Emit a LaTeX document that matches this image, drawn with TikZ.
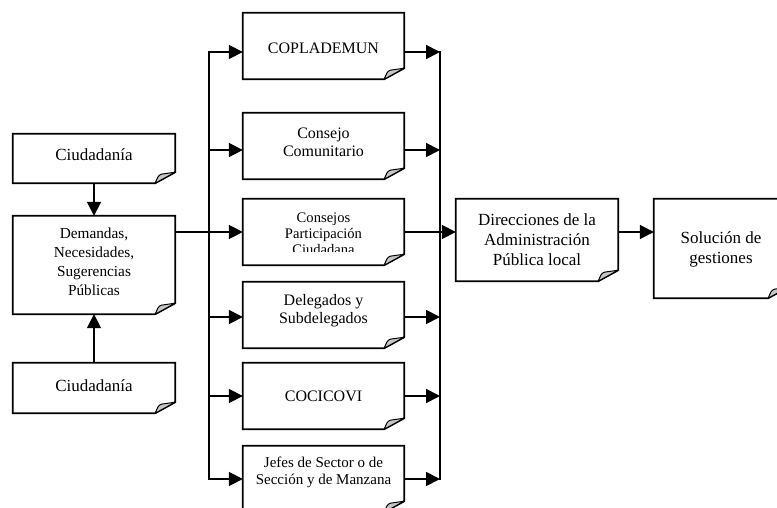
\documentclass[tikz,border=0pt]{standalone}
\usepackage{fontspec}
\setmainfont{Liberation Serif}
\usetikzlibrary{arrows.meta}
\newcommand\foldbox[1]{%
  \draw[line width=1.8pt, line join=miter, fill=white] (#1.north west) -- (#1.north east) -- ([yshift=11pt]#1.south east) -- ([xshift=-20pt]#1.south east) -- (#1.south west) -- cycle;
  \filldraw[fill=gray!45, line width=1pt, line join=round] ([xshift=-20pt]#1.south east) .. controls ([xshift=-18pt,yshift=5pt]#1.south east) and ([xshift=-17pt,yshift=8pt]#1.south east) .. ([xshift=-14pt,yshift=9pt]#1.south east) -- ([yshift=11pt]#1.south east) -- cycle;
}
\begin{document}
\begin{tikzpicture}[x=1pt,y=-1pt,
  box/.style={minimum width=162pt, inner sep=0pt, align=center},
  conn/.style={line width=1.8pt},
  arr/.style={conn,-{Triangle[length=14pt,width=14pt]}},
  fA/.style={font=\fontsize{17}{20}\selectfont},
  fB/.style={font=\fontsize{16}{18}\selectfont},
  fC/.style={font=\fontsize{15.3}{19}\selectfont},
  fD/.style={font=\fontsize{14.6}{16}\selectfont},
  fE/.style={font=\fontsize{15}{17}\selectfont},
]
\useasboundingbox (0,0) rectangle (777,508);
\clip (0,0) rectangle (777,508);

% left column
\node[box, minimum height=49pt] (cit1) at (94,158.5) {};
\node[box, minimum height=98pt] (dem) at (94,265) {};
\node[box, minimum height=50pt] (cit2) at (94,388) {};
% middle column
\node[box, minimum width=161pt, minimum height=66pt] (cop) at (323.5,46) {};
\node[box, minimum width=161pt, minimum height=66pt] (cc) at (323.5,146) {};
\node[box, minimum width=161pt, minimum height=66pt] (cpc) at (323.5,232) {};
\node[box, minimum width=161pt, minimum height=66pt] (del) at (323.5,315) {};
\node[box, minimum width=161pt, minimum height=66pt] (coc) at (323.5,396) {};
\node[box, minimum width=161pt, minimum height=66pt] (jef) at (323.5,479) {};
% right
\node[box, minimum height=82pt] (dir) at (537,240) {};
\node[box, minimum width=134pt, minimum height=99pt] (sol) at (721,248.5) {};

\foreach \n in {cit1,dem,cit2,cop,cc,cpc,del,coc,jef,dir,sol} {\foldbox{\n}}

% texts
\node[fA, yshift=4pt] (tcit1) at (cit1) {Ciudadanía};
\node[fC, align=center, yshift=3pt] (tdem) at (dem) {Demandas,\\Necesidades,\\Sugerencias\\Públicas};
\node[fA, yshift=2pt] (tcit2) at (cit2) {Ciudadanía};
\node[fB, yshift=-2pt] (tcop) at (cop) {COPLADEMUN};
\node[fB, align=center, yshift=4pt] (tcc) at (cc) {Consejo\\Comunitario};
\begin{scope}
  \clip (cpc.north west) rectangle ([yshift=13.5pt]cpc.south east);
  \node[fD, align=center, yshift=-2pt] (tcpc) at (cpc) {Consejos\\Participación\\Ciudadana};
\end{scope}
\node[fB, align=center, yshift=4pt] (tdel) at (del) {Delegados y\\Subdelegados};
\node[fB] (tcoc) at (coc) {COCICOVI};
\node[fE, align=center, yshift=7pt] (tjef) at (jef) {Jefes de Sector o de\\Sección y de Manzana};
\node[fA, align=center] (tdir) at (dir) {Direcciones de la\\Administración\\Pública local};
\node[fA, align=center, yshift=-1pt] (tsol) at (sol) {Solución de\\gestiones};

% rows and buses
\coordinate (r1) at (0,52);
\coordinate (r2) at (0,150);
\coordinate (r3) at (0,232);
\coordinate (r4) at (0,317);
\coordinate (r5) at (0,396);
\coordinate (r6) at (0,479);
\coordinate (lb) at (209,0);
\coordinate (rb) at (440,0);

\draw[arr] (cit1) -- (dem);
\draw[arr] (cit2) -- (dem);

\draw[conn, line cap=rect] (lb |- r1) -- (lb |- r6);
\draw[conn, line cap=rect] (rb |- r1) -- (rb |- r6);

\draw[arr] (dem.east |- r3) -- (cpc.west |- r3);
\draw[arr] (lb |- r1) -- (cop.west |- r1);
\draw[arr] (lb |- r2) -- (cc.west |- r2);
\draw[arr] (lb |- r4) -- (del.west |- r4);
\draw[arr] (lb |- r5) -- (coc.west |- r5);
\draw[arr] (lb |- r6) -- (jef.west |- r6);

\draw[arr] (cop.east |- r1) -- (rb |- r1);
\draw[arr] (cc.east |- r2) -- (rb |- r2);
\draw[arr] (del.east |- r4) -- (rb |- r4);
\draw[arr] (coc.east |- r5) -- (rb |- r5);
\draw[arr] (jef.east |- r6) -- (rb |- r6);

\draw[arr] (cpc.east |- r3) -- (dir.west |- r3);
\draw[arr] (dir.east |- r3) -- (sol.west |- r3);
\end{tikzpicture}
\end{document}
